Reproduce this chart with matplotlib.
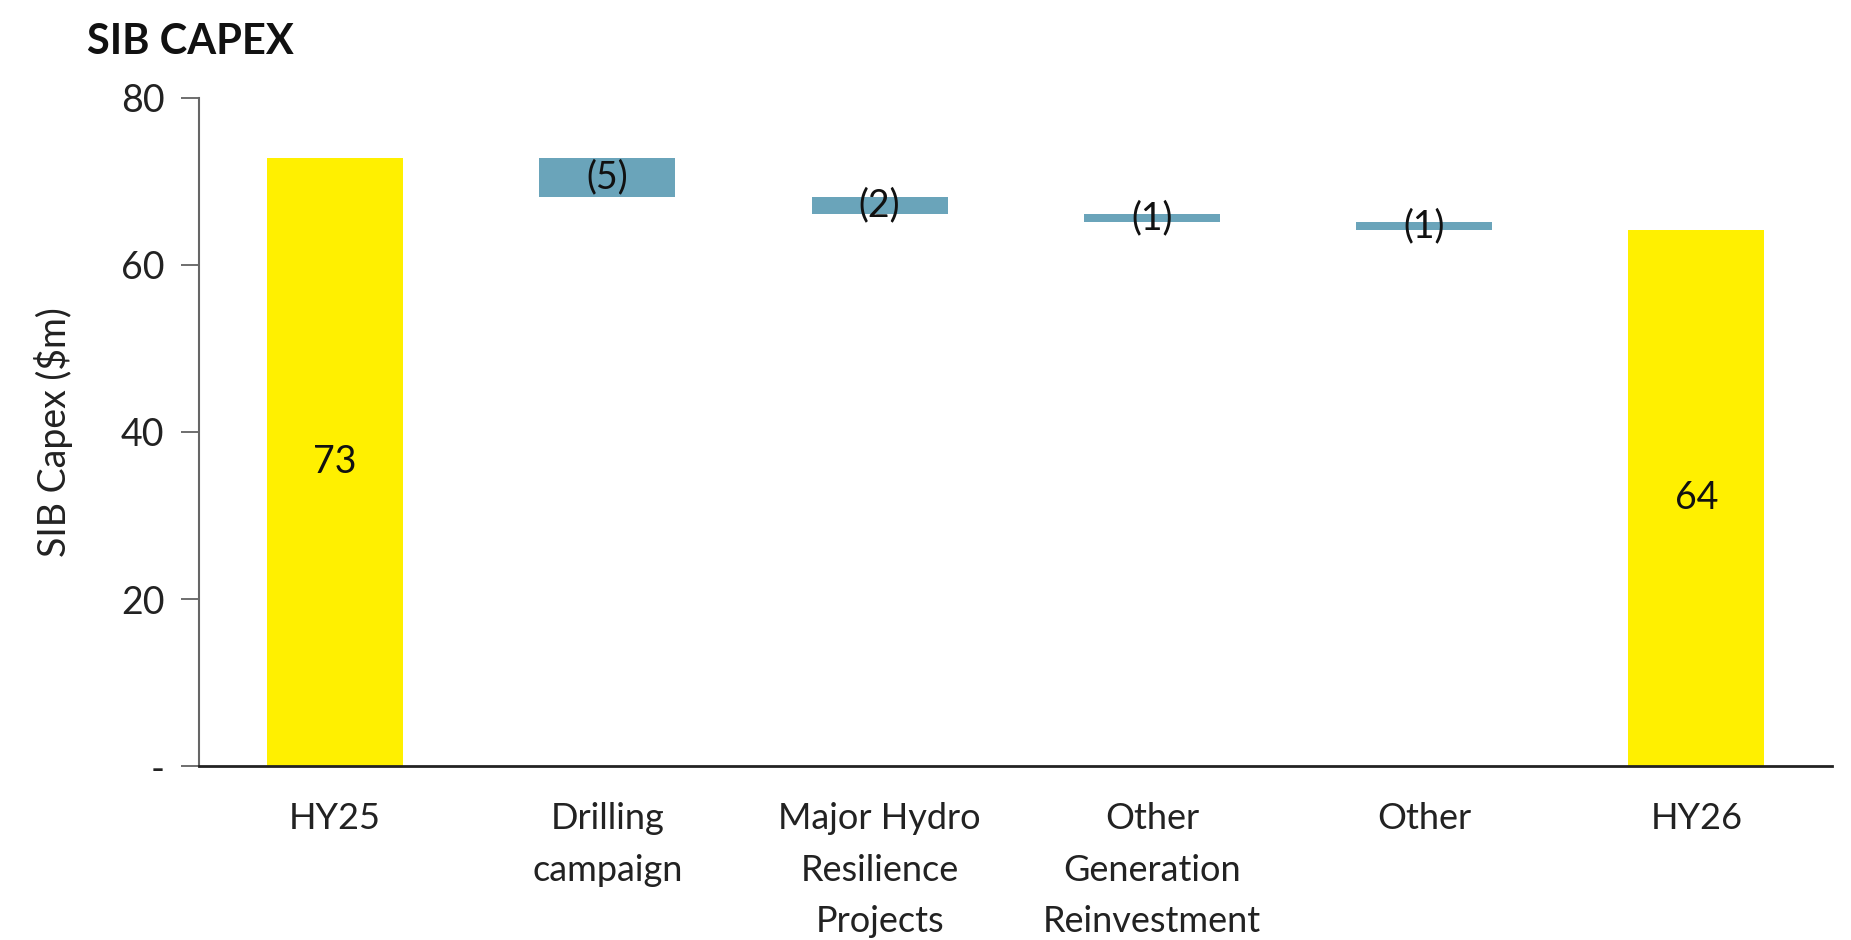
import matplotlib
matplotlib.use("Agg")
import matplotlib.pyplot as plt
import numpy as np

categories = ["HY25", "Drilling\ncampaign", "Major Hydro\nResilience\nProjects",
              "Other\nGeneration\nReinvestment", "Other", "HY26"]
start_value = 72.8
deltas = [-4.7, -2.0, -1.0, -0.9]
end_value = 64.2
value_labels = ["73", "(5)", "(2)", "(1)", "(1)", "64"]
yticks = [0, 20, 40, 60, 80]
ytick_labels = ["-", "20", "40", "60", "80"]

YELLOW = "#FFF000"
TEAL = "#6AA4BA"
FONT = ["Lato", "DejaVu Sans"]

plt.rcParams["font.family"] = FONT

fig = plt.figure(figsize=(18.51, 9.40), dpi=100)
ax = fig.add_axes([0.1075, 0.185, 0.8825, 0.711])

x = np.arange(len(categories))
bottoms = []
heights = []
colors = []
bottoms.append(0)
heights.append(start_value)
colors.append(YELLOW)
running = start_value
for d in deltas:
    new = running + d
    bottoms.append(min(running, new))
    heights.append(abs(d))
    colors.append(TEAL)
    running = new
bottoms.append(0)
heights.append(end_value)
colors.append(YELLOW)

ax.bar(x, heights, bottom=bottoms, width=0.5, color=colors, edgecolor="none")

for xi, b, h, lab in zip(x, bottoms, heights, value_labels):
    ax.text(xi, b + h / 2, lab, ha="center", va="center", fontsize=27,
            fontweight="normal", color="#111111")

ax.set_xlim(-0.5, 5.5)
ax.set_ylim(0, 80)
ax.set_yticks(yticks)
ax.set_yticklabels(ytick_labels, fontsize=27, fontweight="normal", color="#222222")
ax.set_xticks(x)
ax.set_xticklabels(categories, fontsize=26, fontweight="normal", color="#222222",
                   linespacing=1.68, va="top")
ax.tick_params(axis="x", length=0, pad=26)
ax.tick_params(axis="y", length=13, width=1.2, color="#555555", pad=12, direction="out")

for s in ["top", "right"]:
    ax.spines[s].set_visible(False)
ax.spines["left"].set_color("#666666")
ax.spines["left"].set_linewidth(1.5)
ax.spines["bottom"].set_color("#222222")
ax.spines["bottom"].set_linewidth(2)

ax.set_ylabel("SIB Capex ($m)", fontsize=27, fontweight="normal", color="#222222")
ax.yaxis.set_label_coords(-0.077, 0.5)

fig.text(0.047, 0.955, "SIB CAPEX", fontsize=30, fontweight="bold", color="#111111",
         ha="left", va="center")

fig.savefig("out.png", dpi=100)
